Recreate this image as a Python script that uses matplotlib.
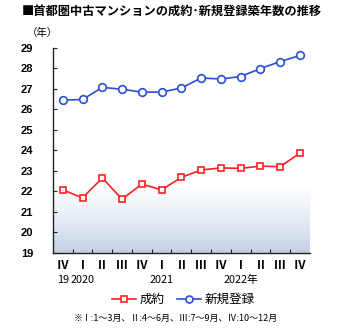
import numpy as np
import matplotlib
matplotlib.use("Agg")
from matplotlib import pyplot as plt
from matplotlib.colors import LinearSegmentedColormap

plt.rcParams['font.family'] = ['Noto Sans CJK JP', 'DejaVu Sans']

quarters = ['Ⅳ', 'Ⅰ', 'Ⅱ', 'Ⅲ', 'Ⅳ', 'Ⅰ', 'Ⅱ', 'Ⅲ', 'Ⅳ', 'Ⅰ', 'Ⅱ', 'Ⅲ', 'Ⅳ']
years = ['19', '2020', '', '', '', '2021', '', '', '', '2022年', '', '', '']
seiyaku = [22.07, 21.68, 22.65, 21.62, 22.35, 22.07, 22.68, 23.04, 23.14, 23.12, 23.23, 23.20, 23.87]
shinki = [26.45, 26.48, 27.07, 26.98, 26.84, 26.84, 27.04, 27.53, 27.48, 27.60, 27.99, 28.33, 28.63]
y_ticks = list(range(19, 30))

fig = plt.figure(figsize=(3.39, 3.30), dpi=100)
ax = fig.add_axes([0.156, 0.234, 0.758, 0.621])

x = np.arange(len(quarters))
ax.set_xlim(-0.5, len(quarters) - 0.5)
ax.set_ylim(19, 29)

# gradient background at the bottom
cmap = LinearSegmentedColormap.from_list('bg', ['#c3d1e4', '#e6ecf5', '#ffffff'])
grad = np.linspace(0, 1, 256).reshape(-1, 1)
ax.imshow(grad, extent=[-0.5, len(quarters) - 0.5, 19, 22.3], origin='lower',
          cmap=cmap, aspect='auto', zorder=0)

ax.plot(x, seiyaku, color='#ff2020', lw=1.2, marker='s', ms=5,
        mfc='white', mec='#ff2020', mew=1.2, label='成約', zorder=3)
ax.plot(x, shinki, color='#2a4fd6', lw=1.2, marker='o', ms=5.5,
        mfc='white', mec='#2a4fd6', mew=1.2, label='新規登録', zorder=3)

for s in ['top', 'right']:
    ax.spines[s].set_visible(False)
for s in ['left', 'bottom']:
    ax.spines[s].set_color('#222222')
    ax.spines[s].set_linewidth(1.0)

ax.set_yticks(y_ticks)
ax.set_yticklabels([str(v) for v in y_ticks], fontsize=8, fontweight='bold',
                   family=['Liberation Sans', 'DejaVu Sans'])
ax.tick_params(axis='y', direction='in', length=3, pad=14, color='#222222')

ax.set_xticks(np.arange(0.5, len(quarters) - 0.5))
ax.set_xticklabels([])
ax.tick_params(axis='x', direction='in', length=3, color='#222222')

for i, q in enumerate(quarters):
    ax.text(i, -0.035, q, transform=ax.get_xaxis_transform(), ha='center', va='top',
            fontsize=8.5, fontweight='bold', family=['Liberation Serif', 'Noto Sans CJK JP'])
for i, yr in enumerate(years):
    if yr:
        ax.text(i, -0.11, yr, transform=ax.get_xaxis_transform(), ha='center', va='top',
                fontsize=7.8)

fig.text(0.063, 0.985, '■首都圏中古マンションの成約･新規登録築年数の推移', fontsize=8.8,
         fontweight='bold', ha='left', va='top')
fig.text(0.08, 0.9, '（年）', fontsize=7.5, ha='left', va='center')

leg = fig.legend(loc='center', bbox_to_anchor=(0.54, 0.092), ncol=2, frameon=False,
                 fontsize=9, handlelength=1.9, columnspacing=1.0, handletextpad=0.3)
for h in leg.legend_handles:
    h.set_markersize(5)

fig.text(0.52, 0.035, '※Ⅰ:1～3月、Ⅱ:4～6月、Ⅲ:7～9月、Ⅳ:10～12月', fontsize=6.5,
         ha='center', va='center')

fig.savefig('out.png', dpi=100)
